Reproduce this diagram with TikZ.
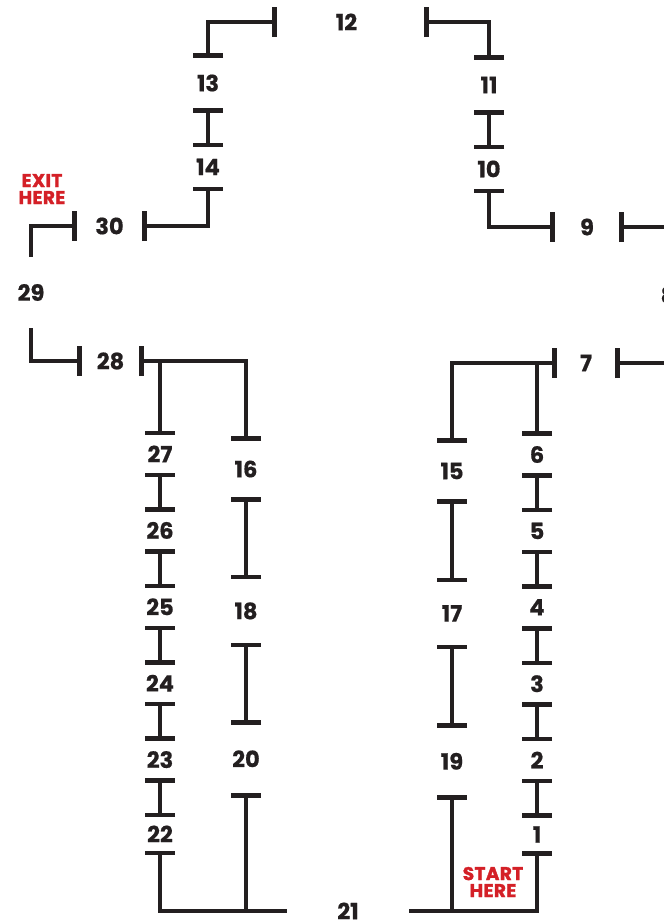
\documentclass[tikz,border=0pt]{standalone}
\usepackage{fontspec}
\setmainfont{Poppins}
\usepackage{tikz}
\usetikzlibrary{arrows.meta,positioning}
\definecolor{routeblack}{RGB}{35,31,32}
\definecolor{exitred}{RGB}{212,32,39}
\tikzset{
  >={Bar[width=30pt]},
  every node/.append style={font=\bfseries\fontsize{22.5}{22}\selectfont\addfontfeatures{FakeBold=0.6}},
}

\begin{document}
\begin{tikzpicture}[
    x=1pt, y=-1pt,
    node distance=39pt,
    station/.style={
        inner sep=0pt,
        text=routeblack,
        minimum width=24pt,
        minimum height=37pt
    },
    note/.style={
        align=center,
        inner sep=0pt,
        text=exitred,
        font=\bfseries\fontsize{18.5}{17}\selectfont\addfontfeatures{FakeBold=1.6,LetterSpace=2}
    },
    track/.style={
        draw=routeblack,
        line width=4.5pt
    }
]
\useasboundingbox (0,0) rectangle (664,922);

% Top loop
\node[station, minimum width=147pt] (s12) at (350.5,22) {12\hspace*{8pt}};
\node[station, minimum height=50pt] (s13) at (208,83) {13};
\node[station, minimum height=39pt, below=of s13] (s14) {14};
\node[station, minimum height=50pt] (s11) at (489,85) {11};
\node[station, minimum height=39pt, below=of s11] (s10) {10};
\node[station, minimum width=65pt] (s30) at (109.5,226) {30};
\node[station, minimum height=71pt] (s29) at (31,292.5) {29};
\node[station, minimum width=57pt] (s28) at (110.5,361) {28};
\node[station, minimum width=64pt] (s9) at (587,227) {9};
\node[station, minimum height=71pt] (s8) at (668,295) {8};
\node[station, minimum width=58pt] (s7) at (586,363) {7};

% Left halls
\node[station] (s27) at (160,454) {27};
\node[station, below=of s27] (s26) {26};
\node[station, below=of s26] (s25) {25};
\node[station, below=of s25] (s24) {24};
\node[station, below=of s24] (s23) {23};
\node[station, minimum height=33pt, below=of s23] (s22) {22};
\node[station, minimum height=56pt] (s16) at (246,469) {16};
\node[station, minimum height=63pt, below=82pt of s16] (s18) {18};
\node[station, minimum height=68pt, below=82pt of s18] (s20) {20};
\node[station, minimum width=122pt] (s21) at (348,911) {21};

% Right halls
\node[station] (s6) at (537,454.5) {6};
\node[station, below=of s6] (s5) {5};
\node[station, below=of s5] (s4) {4};
\node[station, below=of s4] (s3) {3};
\node[station, below=of s3] (s2) {2};
\node[station, minimum height=33pt, below=of s2] (s1) {1};
\node[station, minimum height=56pt] (s15) at (452,471) {15};
\node[station, minimum height=62pt, below=83pt of s15] (s17) {17};
\node[station, minimum height=67pt, below=83pt of s17] (s19) {19};

% Notes
\node[note] (exit) at (42,189) {EXIT\\HERE};
\node[note] (start) at (493,882) {START\\HERE};

% Tracks, top
\draw[track, <->] (s12.west) -| (s13.north);
\draw[track, <->] (s12.east) -| (s11.north);
\draw[track, <->] (s13.south) -- (s14.north);
\draw[track, <->] (s11.south) -- (s10.north);
\draw[track, <->] (s14.south) |- (s30.east);
\draw[track, <-] (s30.west) -| (s29.north);
\draw[track, ->] (s29.south) |- (s28.west);
\draw[track, <->] (s10.south) |- (s9.west);
\draw[track, <-] (s9.east) -| (s8.north);
\draw[track, ->] (s8.south) |- (s7.east);

% Tracks, left
\draw[track, <->] (s28.east) -| (s16.north);
\draw[track, ->] (s27.north |- s28.east) -- (s27.north);
\draw[track, <->] (s27.south) -- (s26.north);
\draw[track, <->] (s26.south) -- (s25.north);
\draw[track, <->] (s25.south) -- (s24.north);
\draw[track, <->] (s24.south) -- (s23.north);
\draw[track, <->] (s23.south) -- (s22.north);
\draw[track, <->] (s16.south) -- (s18.north);
\draw[track, <->] (s18.south) -- (s20.north);
\draw[track, <-] (s22.south) |- (s21.west);
\draw[track, ->] (s20.south |- s21.west) -- (s20.south);

% Tracks, right
\draw[track, <->] (s7.west) -| (s15.north);
\draw[track, ->] (s6.north |- s7.west) -- (s6.north);
\draw[track, <->] (s6.south) -- (s5.north);
\draw[track, <->] (s5.south) -- (s4.north);
\draw[track, <->] (s4.south) -- (s3.north);
\draw[track, <->] (s3.south) -- (s2.north);
\draw[track, <->] (s2.south) -- (s1.north);
\draw[track, <->] (s15.south) -- (s17.north);
\draw[track, <->] (s17.south) -- (s19.north);
\draw[track, <-] (s1.south) |- (s21.east);
\draw[track, ->] (s19.south |- s21.east) -- (s19.south);

\end{tikzpicture}
\end{document}
